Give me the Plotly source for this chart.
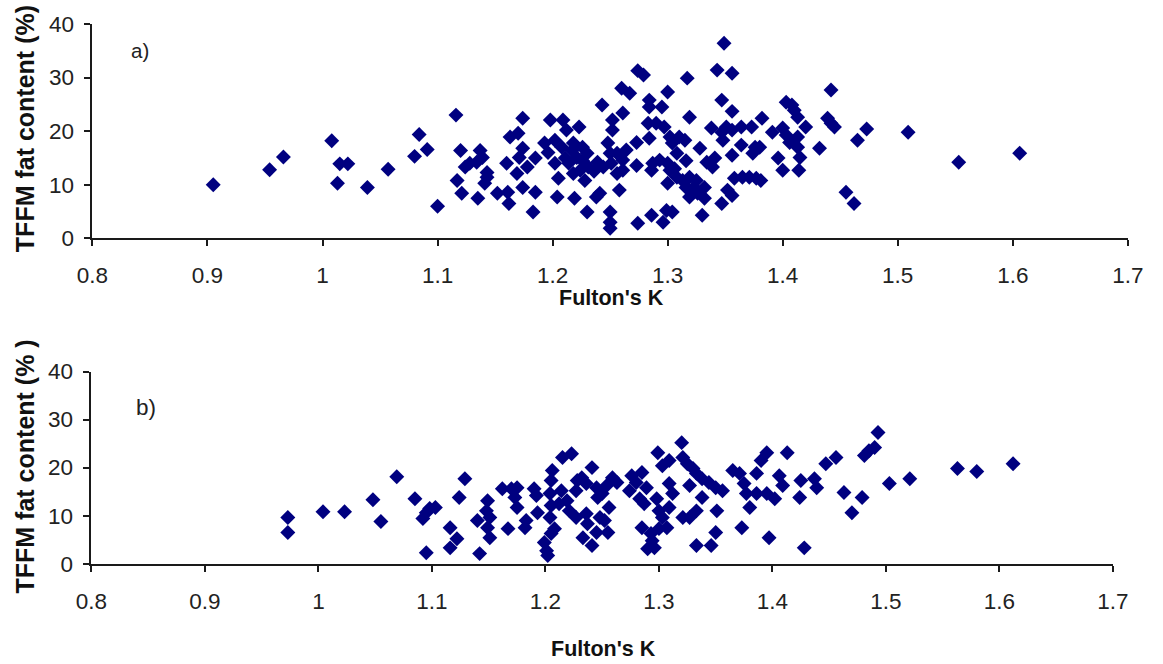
import plotly.graph_objects as go

# Panel a): Fulton's K vs TFFM fat content
k_a = [0.905, 0.954, 0.966, 1.008, 1.013, 1.015, 1.022, 1.039, 1.057, 1.080,
       1.084, 1.091, 1.100, 1.116, 1.117, 1.120, 1.121, 1.124, 1.128, 1.134,
       1.137, 1.139, 1.141, 1.143, 1.143, 1.135, 1.152, 1.160, 1.161, 1.162,
       1.163, 1.170, 1.174, 1.174, 1.171, 1.169, 1.178, 1.174, 1.185, 1.183,
       1.185, 1.193, 1.198, 1.202, 1.202, 1.205, 1.204, 1.209, 1.212, 1.208,
       1.211, 1.217, 1.221, 1.218, 1.219, 1.223, 1.218, 1.226, 1.230, 1.224,
       1.231, 1.228, 1.230, 1.239, 1.244, 1.243, 1.241, 1.238, 1.250, 1.250,
       1.250, 1.252, 1.252, 1.261, 1.260, 1.267, 1.248, 1.250, 1.256, 1.251,
       1.261, 1.256, 1.261, 1.258, 1.274, 1.279, 1.284, 1.284, 1.295, 1.300,
       1.273, 1.283, 1.290, 1.297, 1.284, 1.273, 1.274, 1.286, 1.296, 1.299,
       1.304, 1.287, 1.293, 1.286, 1.302, 1.304, 1.310, 1.315, 1.308, 1.302,
       1.300, 1.308, 1.313, 1.319, 1.316, 1.323, 1.325, 1.326, 1.319, 1.332,
       1.332, 1.330, 1.317, 1.319, 1.328, 1.334, 1.341, 1.339, 1.349, 1.343,
       1.356, 1.347, 1.356, 1.338, 1.347, 1.351, 1.348, 1.356, 1.364, 1.364,
       1.356, 1.373, 1.376, 1.374, 1.382, 1.352, 1.356, 1.347, 1.358, 1.365,
       1.371, 1.377, 1.381, 1.391, 1.380, 1.403, 1.408, 1.410, 1.413, 1.400,
       1.403, 1.406, 1.413, 1.420, 1.413, 1.415, 1.396, 1.400, 1.414, 1.432,
       1.442, 1.439, 1.442, 1.445, 1.473, 1.465, 1.455, 1.462, 1.509, 1.553,
       1.606, 1.196, 1.214, 1.226, 1.236, 1.264, 1.300, 1.306, 1.316]
fat_a = [10.0, 12.8, 15.2, 18.2, 10.3, 13.9, 13.9, 9.5, 12.9, 15.3,
         19.4, 16.6, 6.0, 23.0, 10.8, 16.4, 8.4, 13.3, 14.0, 14.2,
         16.4, 15.1, 10.3, 12.3, 11.4, 7.5, 8.4, 14.0, 8.6, 6.5,
         18.9, 19.6, 22.4, 16.8, 15.1, 12.1, 13.3, 9.5, 8.6, 4.9,
         15.0, 17.8, 22.1, 18.3, 14.0, 11.2, 7.7, 22.1, 20.2, 17.0,
         15.0, 16.4, 15.1, 12.1, 7.5, 20.8, 17.8, 17.0, 15.9, 12.7,
         13.3, 10.8, 4.9, 14.2, 13.3, 24.9, 8.4, 7.7, 4.9, 3.0,
         1.9, 22.1, 20.2, 23.4, 28.0, 27.1, 17.8, 15.9, 15.9, 14.0,
         14.6, 12.1, 12.7, 9.0, 31.3, 30.5, 25.8, 24.5, 24.5, 27.3,
         17.9, 21.5, 21.5, 20.8, 18.7, 13.6, 2.8, 4.3, 3.0, 5.2,
         4.9, 14.0, 14.6, 12.7, 18.9, 17.8, 18.9, 18.3, 15.9, 12.7,
         10.3, 11.4, 10.8, 11.4, 9.5, 9.5, 10.8, 8.4, 7.7, 9.5,
         7.5, 4.3, 29.9, 22.6, 16.8, 14.2, 15.0, 13.3, 36.4, 31.4,
         30.8, 25.8, 23.7, 20.6, 19.8, 20.8, 18.3, 20.2, 20.8, 17.4,
         15.5, 20.8, 17.0, 15.9, 22.4, 9.0, 8.0, 6.5, 11.2, 11.4,
         11.4, 11.2, 10.8, 19.8, 17.0, 25.4, 24.9, 23.9, 22.6, 20.6,
         19.3, 17.9, 18.9, 20.8, 17.0, 15.1, 15.0, 12.7, 12.7, 16.8,
         27.7, 22.4, 21.5, 20.8, 20.4, 18.3, 8.6, 6.5, 19.8, 14.2,
         15.9, 16.0, 14.0, 14.5, 12.5, 16.5, 14.0, 13.0, 14.5]

# Panel b)
k_b = [0.973, 0.973, 1.004, 1.023, 1.048, 1.055, 1.069, 1.085, 1.098, 1.103,
       1.095, 1.092, 1.095, 1.116, 1.122, 1.116, 1.124, 1.129, 1.140, 1.142,
       1.149, 1.148, 1.151, 1.149, 1.151, 1.162, 1.170, 1.175, 1.173, 1.175,
       1.167, 1.183, 1.182, 1.190, 1.192, 1.193, 1.199, 1.201, 1.202, 1.205,
       1.208, 1.206, 1.205, 1.204, 1.205, 1.204, 1.215, 1.223, 1.214, 1.219,
       1.212, 1.221, 1.228, 1.241, 1.232, 1.236, 1.227, 1.245, 1.259, 1.254,
       1.263, 1.250, 1.246, 1.227, 1.236, 1.237, 1.248, 1.256, 1.252, 1.255,
       1.245, 1.233, 1.241, 1.276, 1.280, 1.274, 1.285, 1.289, 1.283, 1.287,
       1.299, 1.303, 1.309, 1.298, 1.300, 1.303, 1.309, 1.312, 1.309, 1.285,
       1.293, 1.300, 1.307, 1.294, 1.290, 1.296, 1.320, 1.321, 1.325, 1.330,
       1.333, 1.327, 1.321, 1.327, 1.333, 1.338, 1.344, 1.350, 1.356, 1.338,
       1.351, 1.333, 1.346, 1.350, 1.365, 1.371, 1.375, 1.377, 1.380, 1.373,
       1.386, 1.390, 1.395, 1.386, 1.397, 1.413, 1.406, 1.409, 1.395, 1.402,
       1.425, 1.424, 1.428, 1.437, 1.439, 1.447, 1.456, 1.463, 1.470, 1.479,
       1.481, 1.485, 1.490, 1.493, 1.503, 1.521, 1.563, 1.580, 1.612]
fat_b = [9.6, 6.5, 10.8, 10.8, 13.3, 8.8, 18.1, 13.5, 11.5, 11.7,
         10.6, 9.4, 2.3, 7.5, 5.2, 3.3, 13.8, 17.7, 9.0, 2.1,
         13.1, 11.0, 9.6, 7.5, 5.4, 15.6, 15.6, 15.8, 13.8, 11.7,
         7.3, 9.0, 7.5, 15.6, 14.2, 10.6, 4.4, 2.7, 1.7, 6.3,
         7.3, 19.4, 17.3, 14.6, 12.1, 9.6, 22.1, 22.9, 15.2, 13.1,
         12.5, 11.0, 17.3, 20.0, 17.9, 16.7, 15.2, 15.8, 17.9, 16.3,
         16.9, 14.6, 13.8, 9.6, 10.4, 8.3, 9.6, 11.7, 9.0, 6.5,
         6.5, 5.4, 3.8, 18.3, 16.9, 15.2, 19.0, 15.8, 13.5, 12.5,
         23.1, 20.4, 21.5, 13.5, 11.0, 9.6, 16.7, 14.6, 11.7, 7.5,
         6.3, 7.3, 7.5, 4.8, 3.1, 3.3, 25.2, 22.1, 20.8, 19.8,
         18.8, 16.3, 9.6, 9.6, 11.0, 17.7, 16.9, 15.8, 15.2, 13.8,
         11.0, 3.8, 3.8, 6.5, 19.4, 18.8, 16.7, 14.6, 11.7, 7.5,
         18.8, 21.5, 23.1, 14.6, 5.4, 23.1, 18.3, 16.3, 14.6, 13.5,
         17.3, 13.8, 3.3, 17.7, 15.8, 20.8, 22.1, 14.8, 10.6, 13.8,
         22.5, 23.5, 24.2, 27.3, 16.7, 17.7, 19.8, 19.2, 20.8]

x_ticks = [0.8, 0.9, 1.0, 1.1, 1.2, 1.3, 1.4, 1.5, 1.6, 1.7]
x_tick_text = ["0.8", "0.9", "1", "1.1", "1.2", "1.3", "1.4", "1.5", "1.6", "1.7"]
y_ticks = [0, 10, 20, 30, 40]

W, H = 1163, 664
NAVY = "#000080"
AXIS = "#1a1a1a"
FONT = "Liberation Sans, Arial, sans-serif"

fig = go.Figure()
marker = dict(symbol="diamond", size=11.5, color=NAVY, line=dict(width=0))
fig.add_trace(go.Scatter(x=k_a, y=fat_a, mode="markers", marker=marker,
                         xaxis="x", yaxis="y", showlegend=False, hoverinfo="x+y"))
fig.add_trace(go.Scatter(x=k_b, y=fat_b, mode="markers", marker=marker,
                         xaxis="x2", yaxis="y2", showlegend=False, hoverinfo="x+y"))


def px_x(p):
    return p / W


def px_y(p):
    return 1 - p / H


xcommon = dict(range=[0.8, 1.7], tickvals=x_ticks, ticktext=x_tick_text,
               showgrid=False, zeroline=False, showline=True, linecolor=AXIS,
               linewidth=2, ticks="outside", ticklen=6, tickwidth=1.5,
               tickcolor=AXIS, tickfont=dict(family=FONT, size=22.5, color="#222"),
               ticklabelstandoff=10, fixedrange=True)
ycommon = dict(range=[0, 40], tickvals=y_ticks, showgrid=False, zeroline=False,
               showline=True, linecolor=AXIS, linewidth=2, ticks="outside",
               ticklen=6, tickwidth=1.5, tickcolor=AXIS,
               tickfont=dict(family=FONT, size=22.5, color="#222"),
               ticklabelstandoff=6, fixedrange=True)

fig.update_layout(
    width=W, height=H,
    margin=dict(l=0, r=0, t=0, b=0),
    paper_bgcolor="white", plot_bgcolor="white",
    xaxis=dict(domain=[px_x(78.6), px_x(1143.3)], anchor="y", **xcommon),
    yaxis=dict(domain=[px_y(235.2), px_y(12.5)], anchor="x", **ycommon),
    xaxis2=dict(domain=[px_x(77.6), px_x(1128)], anchor="y2", **xcommon),
    yaxis2=dict(domain=[px_y(573.3), px_y(373.6)], anchor="x2", **ycommon),
)

title_font = dict(family=FONT, size=25, color="#111")
annotations = [
    dict(text="<b>TFFM fat content (%)</b>", x=px_x(9.5), y=px_y(121.5),
         textangle=-90, font=title_font),
    dict(text="<b>TFFM fat content (% )</b>", x=px_x(9.5), y=px_y(472),
         textangle=-90, font=title_font),
    dict(text="<b>Fulton's K</b>", x=px_x(612), y=px_y(297),
         font=dict(family=FONT, size=21.5, color="#111")),
    dict(text="<b>Fulton's K</b>", x=px_x(604), y=px_y(662),
         font=dict(family=FONT, size=21.5, color="#111")),
    dict(text="a)", x=px_x(128), y=px_y(39.5),
         font=dict(family=FONT, size=20.5, color="#222")),
    dict(text="b)", x=px_x(134), y=px_y(411),
         font=dict(family=FONT, size=22.5, color="#222")),
]
for a in annotations:
    a.update(xref="paper", yref="paper", showarrow=False,
             xanchor="center", yanchor="middle")
fig.update_layout(annotations=annotations)

fig.write_html("out.html")
